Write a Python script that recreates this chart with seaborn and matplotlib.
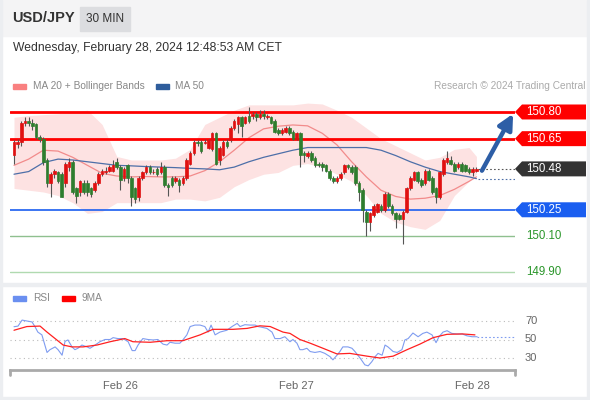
import matplotlib
matplotlib.use("Agg")
import matplotlib.pyplot as plt
import matplotlib.transforms as mtransforms
from matplotlib.patches import Rectangle, Polygon
import numpy as np
import seaborn as sns

# candles (30 min), index 0..126
opens = [150.56, 150.62, 150.63, 150.74, 150.75, 150.74, 150.73, 150.66, 150.65, 150.53,
         150.40, 150.45, 150.46, 150.45, 150.40, 150.49, 150.52, 150.37, 150.35, 150.40,
         150.40, 150.37, 150.36, 150.40, 150.45, 150.46, 150.47, 150.47, 150.52, 150.49,
         150.43, 150.50, 150.43, 150.37, 150.32, 150.43, 150.46, 150.49, 150.46, 150.48,
         150.46, 150.49, 150.39, 150.43, 150.41, 150.42, 150.40, 150.43, 150.51, 150.57,
         150.63, 150.63, 150.625, 150.60, 150.59, 150.68, 150.53, 150.56, 150.63, 150.64,
         150.71, 150.73, 150.77, 150.74, 150.78, 150.78, 150.79, 150.77, 150.79, 150.77,
         150.77, 150.75, 150.70, 150.68, 150.69, 150.71, 150.69, 150.65, 150.68, 150.57,
         150.55, 150.57, 150.54, 150.51, 150.51, 150.50, 150.47, 150.43, 150.41, 150.43,
         150.46, 150.50, 150.49, 150.49, 150.40, 150.36, 150.24, 150.18, 150.22, 150.24,
         150.27, 150.25, 150.34, 150.27, 150.23, 150.22, 150.20, 150.24, 150.37, 150.42,
         150.46, 150.42, 150.40, 150.47, 150.43, 150.37, 150.32, 150.45, 150.52, 150.53,
         150.51, 150.49, 150.51, 150.50, 150.48, 150.46, 150.47]
closes = [150.63, 150.63, 150.74, 150.75, 150.74, 150.72, 150.66, 150.65, 150.52, 150.40,
          150.45, 150.47, 150.41, 150.32, 150.51, 150.52, 150.35, 150.33, 150.41, 150.35,
          150.35, 150.34, 150.40, 150.45, 150.47, 150.47, 150.49, 150.50, 150.49, 150.42,
          150.48, 150.43, 150.32, 150.31, 150.43, 150.46, 150.49, 150.46, 150.465, 150.45,
          150.49, 150.39, 150.38, 150.39, 150.43, 150.39, 150.43, 150.53, 150.57, 150.63,
          150.625, 150.58, 150.63, 150.64, 150.68, 150.51, 150.60, 150.63, 150.61, 150.71,
          150.75, 150.77, 150.72, 150.77, 150.75, 150.79, 150.77, 150.79, 150.78, 150.78,
          150.74, 150.69, 150.68, 150.70, 150.71, 150.68, 150.65, 150.68, 150.56, 150.56,
          150.57, 150.53, 150.50, 150.50, 150.49, 150.47, 150.43, 150.41, 150.43, 150.45,
          150.50, 150.49, 150.46, 150.40, 150.35, 150.25, 150.18, 150.23, 150.27, 150.28,
          150.25, 150.34, 150.27, 150.23, 150.20, 150.20, 150.24, 150.37, 150.43, 150.46,
          150.41, 150.39, 150.47, 150.42, 150.35, 150.32, 150.46, 150.53, 150.54, 150.51,
          150.47, 150.51, 150.47, 150.47, 150.46, 150.48, 150.48]
highs = [150.64, 150.65, 150.75, 150.77, 150.77, 150.76, 150.74, 150.67, 150.66, 150.54,
         150.46, 150.48, 150.47, 150.46, 150.52, 150.54, 150.53, 150.38, 150.42, 150.42,
         150.42, 150.38, 150.41, 150.46, 150.48, 150.49, 150.50, 150.53, 150.54, 150.50,
         150.49, 150.51, 150.44, 150.38, 150.44, 150.47, 150.50, 150.50, 150.48, 150.49,
         150.52, 150.50, 150.40, 150.44, 150.44, 150.43, 150.44, 150.54, 150.58, 150.64,
         150.64, 150.64, 150.65, 150.65, 150.69, 150.69, 150.61, 150.64, 150.65, 150.72,
         150.76, 150.78, 150.78, 150.78, 150.83, 150.80, 150.80, 150.81, 150.81, 150.79,
         150.78, 150.76, 150.71, 150.71, 150.72, 150.72, 150.70, 150.69, 150.69, 150.58,
         150.58, 150.58, 150.55, 150.52, 150.52, 150.51, 150.48, 150.44, 150.44, 150.46,
         150.51, 150.51, 150.50, 150.50, 150.41, 150.37, 150.25, 150.24, 150.28, 150.29,
         150.28, 150.35, 150.35, 150.28, 150.24, 150.23, 150.25, 150.38, 150.44, 150.47,
         150.47, 150.43, 150.48, 150.48, 150.44, 150.38, 150.47, 150.54, 150.58, 150.55,
         150.52, 150.52, 150.52, 150.51, 150.49, 150.49, 150.49]
lows = [150.51, 150.60, 150.61, 150.72, 150.72, 150.70, 150.65, 150.63, 150.50, 150.38,
        150.32, 150.43, 150.40, 150.32, 150.38, 150.47, 150.34, 150.29, 150.33, 150.34,
        150.33, 150.32, 150.35, 150.39, 150.44, 150.45, 150.46, 150.46, 150.48, 150.36,
        150.41, 150.40, 150.27, 150.29, 150.30, 150.42, 150.45, 150.45, 150.45, 150.44,
        150.45, 150.38, 150.33, 150.38, 150.40, 150.35, 150.39, 150.42, 150.50, 150.56,
        150.61, 150.57, 150.62, 150.59, 150.58, 150.50, 150.50, 150.55, 150.60, 150.63,
        150.70, 150.68, 150.66, 150.73, 150.74, 150.76, 150.75, 150.76, 150.76, 150.76,
        150.73, 150.68, 150.67, 150.67, 150.68, 150.67, 150.64, 150.64, 150.49, 150.52,
        150.54, 150.52, 150.49, 150.49, 150.47, 150.46, 150.42, 150.40, 150.40, 150.42,
        150.45, 150.48, 150.45, 150.39, 150.30, 150.18, 150.10, 150.13, 150.21, 150.23,
        150.24, 150.24, 150.26, 150.22, 150.15, 150.19, 150.06, 150.23, 150.36, 150.41,
        150.40, 150.38, 150.39, 150.41, 150.34, 150.29, 150.31, 150.44, 150.51, 150.50,
        150.46, 150.48, 150.46, 150.46, 150.45, 150.44, 150.46]

# moving averages / bands sampled every 4 candles
ma_pos = [0, 4, 8, 12, 16, 20, 24, 28, 32, 36, 40, 44, 48, 52, 56, 60, 64,
          68, 72, 76, 80, 84, 88, 92, 96, 100, 104, 108, 112, 116, 120, 124, 126]
ma20 = [150.50, 150.535, 150.585, 150.58, 150.545, 150.50, 150.455, 150.44, 150.435,
        150.437, 150.435, 150.435, 150.44, 150.47, 150.52, 150.585, 150.655, 150.705,
        150.72, 150.727, 150.722, 150.68, 150.615, 150.52, 150.435, 150.36, 150.325,
        150.31, 150.315, 150.33, 150.365, 150.41, 150.435]
ma50 = [150.45, 150.465, 150.515, 150.535, 150.53, 150.52, 150.51, 150.50, 150.497,
        150.493, 150.49, 150.487, 150.483, 150.48, 150.475, 150.49, 150.52, 150.545,
        150.565, 150.585, 150.60, 150.60, 150.60, 150.60, 150.60, 150.585, 150.555,
        150.52, 150.49, 150.465, 150.45, 150.435, 150.425]
bb_up = [150.77, 150.78, 150.785, 150.79, 150.80, 150.81, 150.73, 150.55, 150.53,
         150.53, 150.53, 150.54, 150.59, 150.73, 150.77, 150.81, 150.84, 150.84,
         150.84, 150.84, 150.85, 150.845, 150.81, 150.77, 150.71, 150.65, 150.61,
         150.57, 150.53, 150.545, 150.59, 150.60, 150.55]
bb_lo = [150.37, 150.36, 150.35, 150.33, 150.29, 150.23, 150.24, 150.29, 150.29,
         150.29, 150.29, 150.31, 150.31, 150.30, 150.32, 150.38, 150.42, 150.45,
         150.46, 150.50, 150.51, 150.49, 150.45, 150.41, 150.33, 150.23, 150.18,
         150.155, 150.14, 150.19, 150.33, 150.41, 150.45]

levels = [150.80, 150.65, 150.25, 150.10, 149.90]
last_price = 150.48

# RSI panel
rsi_pos = [0, 1.1, 2.2, 3.5, 4.9, 5.7, 6.5, 7.6, 9, 9.8, 11.2, 12, 13.1, 13.9, 14.7,
           15.8, 16.6, 17.4, 18.5, 19.9, 20.7, 22.1, 23.4, 24.8, 26.2, 27, 28.3, 29.7,
           31.1, 32.2, 33, 33.8, 35.1, 36.5, 37.9, 39.2, 40.6, 41.7, 42.5, 43.9, 45.2,
           46, 47.1, 48, 49.3, 50.7, 52, 52.9, 53.7, 54.8, 56.1, 58, 59.4, 60.8, 61.6,
           62.9, 64.3, 65.7, 66.5, 67.8, 68.9, 70.3, 71.1, 72.5, 73.8, 75.2, 76, 77.1,
           77.9, 78.7, 79.8, 80.7, 82, 83.4, 84.7, 86.1, 86.9, 88, 88.8, 89.6, 91, 92.1,
           92.9, 94.3, 95.6, 96.5, 97.5, 98.4, 99.2, 100.3, 101.1, 101.9, 103.3, 104.4,
           105.7, 106.5, 107.4, 108.7, 110.1, 111.4, 112.5, 113.9, 115, 115.8, 116.9,
           118, 119.3, 120.7, 122.1, 123.4, 124.8, 126.2]
rsi = [63.8, 64.5, 71, 70, 69, 64, 58, 55, 36, 39, 42, 39, 33, 48, 49.5,
       42, 39, 40.5, 44, 42, 40.5, 44, 47.6, 50, 50, 52, 51, 51,
       47.6, 38, 38, 44, 51, 50, 49.5, 50, 45, 44, 47, 46, 46,
       49.5, 55, 64, 65.6, 65.6, 64, 58, 65.6, 55, 58, 60, 64, 67.4, 64,
       66, 65.6, 65.6, 64, 63, 62, 58, 51, 51, 53, 47.6, 50, 46,
       39, 39, 40.5, 37, 36, 37, 35, 31.5, 28, 33, 37, 42, 42, 40.5,
       37, 30, 22.6, 21.5, 26, 31.5, 35, 33, 44, 42, 37, 36,
       39, 49.5, 51, 57, 53, 56.6, 58, 55, 46.6, 53, 58,
       59.5, 56.6, 56, 56, 54, 53, 53]
ma9_pos = [0, 3.5, 7.1, 9, 11.2, 13.4, 15.8, 18.8, 22.6, 26.2, 30.2, 32.4, 37.1,
           41.7, 46, 50.7, 54.2, 59.7, 63.5, 67, 69.8, 73.3, 75.2, 77.9, 80.7, 84.2,
           88, 91.5, 96.2, 99.7, 103.3, 107.1, 110.6, 114.2, 118, 122.3, 125.6]
ma9 = [60, 64, 64.5, 58, 51, 44, 42, 42, 44, 47.6, 51, 47.6, 47, 48.7, 48.7, 55,
       61, 61, 62, 64.8, 64, 58, 56.6, 50, 46, 40.5, 34.4, 35, 32, 30, 32, 39, 45,
       52, 55.6, 56, 55]
rsi_levels = [70, 50, 30]
day_pos = [29, 77, 125]
day_labels = ["Feb 26", "Feb 27", "Feb 28"]

sns.set_style("white")
plt.rcParams['font.family'] = ['Liberation Sans', 'DejaVu Sans']

W, H = 590, 400
fig = plt.figure(figsize=(5.9, 4), dpi=100)


def box(x, y, w, h):
    return [x / W, 1 - (y + h) / H, w / W, h / H]


# page frame
fig.patches.append(Rectangle((0, 1 - 36 / H), 1, 36 / H, transform=fig.transFigure,
                             color='#f4f4f5', zorder=0))
fig.patches.append(Rectangle((0, 1 - 286 / H), 1, 3 / H, transform=fig.transFigure,
                             color='#eceef1', zorder=0))
fig.patches.append(Rectangle((0, 0), 1, 3 / H, transform=fig.transFigure,
                             color='#eceef1', zorder=0))
fig.patches.append(Rectangle((587 / W, 0), 3 / W, 1, transform=fig.transFigure,
                             color='#eceef1', zorder=0))
fig.patches.append(Rectangle((0, 0), 2 / W, 1, transform=fig.transFigure,
                             color='#eceef1', zorder=0))

fig.text(12 / W, 1 - 18 / H, "USD/JPY", fontsize=10.5, fontweight='bold', color='#333333', va='center')
fig.patches.append(Rectangle((80 / W, 1 - 31 / H), 50 / W, 24 / H, transform=fig.transFigure,
                             color='#dcdde0', zorder=1))
fig.text(105 / W, 1 - 19 / H, "30 MIN", fontsize=8.5, color='#333333', va='center', ha='center')
fig.text(13 / W, 1 - 48 / H, "Wednesday, February 28, 2024 12:48:53 AM CET", fontsize=8.7,
         color='#333333', va='center')

# legends
fig.patches.append(Rectangle((13 / W, 1 - 89 / H), 13 / W, 5 / H, transform=fig.transFigure,
                             color='#f98080', zorder=1))
fig.text(33 / W, 1 - 86 / H, "MA 20 + Bollinger Bands", fontsize=7.3, color='#888888', va='center')
fig.patches.append(Rectangle((156 / W, 1 - 89 / H), 13 / W, 5 / H, transform=fig.transFigure,
                             color='#2f5d9c', zorder=1))
fig.text(175 / W, 1 - 86 / H, "MA 50", fontsize=7.3, color='#888888', va='center')
fig.text(586 / W, 1 - 86 / H, "Research \u00a9 2024 Trading Central", fontsize=7.3,
         color='#aaaaaa', va='center', ha='right')

fig.patches.append(Rectangle((13 / W, 1 - 301 / H), 13 / W, 5 / H, transform=fig.transFigure,
                             color='#6a8ff0', zorder=1))
fig.text(33 / W, 1 - 298 / H, "RSI", fontsize=7.3, color='#888888', va='center')
fig.patches.append(Rectangle((62 / W, 1 - 301 / H), 13 / W, 5 / H, transform=fig.transFigure,
                             color='#ff0000', zorder=1))
fig.text(82 / W, 1 - 298 / H, "9MA", fontsize=7.3, color='#888888', va='center')

# ---------------- main price panel
ax = fig.add_axes(box(10, 96, 505, 186))
ax.set_facecolor('none')
ax.fill_between(ma_pos, bb_lo, bb_up, color='#fde2e2', lw=0, zorder=1)
sns.lineplot(x=ma_pos, y=ma20, ax=ax, color='#f28b8b', lw=0.9, zorder=2)
sns.lineplot(x=ma_pos, y=ma50, ax=ax, color='#4d6fa8', lw=0.9, zorder=2)

idx = np.arange(len(opens))
o = np.array(opens)
c = np.array(closes)
up = c >= o
cols = np.where(up, '#e01010', '#2e7d2e')
ax.vlines(idx, lows, highs, color='#555555', lw=0.8, zorder=3)
ax.bar(idx, c - o, bottom=o, width=0.7, color=cols, edgecolor=cols, lw=0.5, zorder=4)

lv_style = {150.80: ('#ff0000', 2.0), 150.65: ('#ff0000', 2.0), 150.25: ('#1a5ef0', 1.2),
            150.10: ('#8fc08f', 1.0), 149.90: ('#b0dab0', 1.0)}
for lv in levels:
    col, lw = lv_style[lv]
    ax.axhline(lv, color=col, lw=lw, zorder=2)

ax.plot([idx[-1] + 0.5, 136.5], [last_price, last_price], ls=(0, (1.5, 2)), color='#555555', lw=0.8)
ax.plot([idx[-1] + 0.5, 136.5], [ma50[-1], ma50[-1]], ls=(0, (1.5, 2)), color='#4d6fa8', lw=0.8)

ax.annotate('', xy=(136.0, 150.79), xytext=(127.5, 150.47),
            arrowprops=dict(arrowstyle='-|>,head_width=0.45,head_length=0.9', color='#2d5ea6',
                            lw=3.2, shrinkA=0, shrinkB=0), zorder=6)

ax.set_xlim((10 - 14) / 3.67, (515 - 14) / 3.67)
ax.set_ylim(149.90 - 10 / 178, 150.80 + 16 / 178)
ax.set_xticks([])
ax.set_yticks([])
for s in ax.spines.values():
    s.set_visible(False)

trans = mtransforms.blended_transform_factory(ax.transAxes, ax.transData)
hh = 7.5 / 178
tags = [(150.80, '150.80', '#ff0000'), (150.65, '150.65', '#ff0000'),
        (last_price, '150.48', '#333333'), (150.25, '150.25', '#1a5ef0')]
for yv, lab, bg in tags:
    poly = Polygon([(1.0, yv), (1 + 7 / 505, yv + hh), (1 + 71 / 505, yv + hh),
                    (1 + 71 / 505, yv - hh), (1 + 7 / 505, yv - hh)], closed=True,
                   transform=trans, clip_on=False, facecolor=bg, edgecolor='none')
    ax.add_patch(poly)
    ax.text(1 + 11 / 505, yv, lab, transform=trans, va='center', ha='left', color='white',
            fontsize=8.3, clip_on=False)
for yv, lab in [(150.10, '150.10'), (149.90, '149.90')]:
    ax.text(1 + 11 / 505, yv, lab, transform=trans, va='center', ha='left', color='#2a962a',
            fontsize=8.3, clip_on=False)

# ---------------- RSI panel
ax2 = fig.add_axes(box(10, 300, 505, 70))
ax2.set_facecolor('none')
for lv in rsi_levels:
    ax2.axhline(lv, color='#bbbbbb', lw=0.8, ls=(0, (1, 3)))
    ax2.text(1 + 10 / 505, lv, str(lv), transform=mtransforms.blended_transform_factory(
        ax2.transAxes, ax2.transData), va='center', ha='left', color='#666666', fontsize=8)
sns.lineplot(x=rsi_pos, y=rsi, ax=ax2, color='#7f9cf0', lw=0.8)
sns.lineplot(x=ma9_pos, y=ma9, ax=ax2, color='#ff2020', lw=0.9)
ax2.plot([rsi_pos[-1], 136.5], [rsi[-1], rsi[-1]], ls=(0, (1.5, 2)), color='#7f9cf0', lw=0.8)
ax2.set_xlim((10 - 14) / 3.67, (515 - 14) / 3.67)
ax2.set_ylim(30 - 12 / 0.925, 70 + 21 / 0.925)
ax2.set_yticks([])
ax2.set_xticks(day_pos)
ax2.set_xticklabels(day_labels, color='#666666', fontsize=8)
ax2.tick_params(axis='x', length=0, pad=8)
for k, s in ax2.spines.items():
    s.set_visible(k == 'bottom')
ax2.spines['bottom'].set_color('#aaaaaa')
ax2.spines['bottom'].set_linewidth(2)
for xe in [0.0, 1.0]:
    ax2.plot([xe, xe], [0, -0.07], transform=ax2.transAxes, color='#aaaaaa', lw=2, clip_on=False)

fig.savefig('out.png', dpi=100)
